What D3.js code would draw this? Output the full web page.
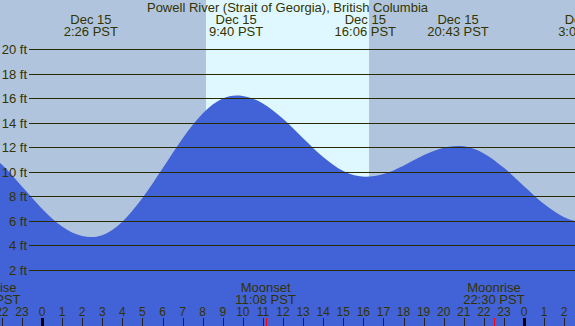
<!DOCTYPE html>
<html><head><meta charset="utf-8">
<script src="https://cdn.jsdelivr.net/npm/d3@7"></script>
<style>html,body{margin:0;padding:0;overflow:hidden;background:#b0c4de}svg{display:block}</style>
</head><body>
<svg id="c" width="575" height="326"></svg>
<script>
// ---- data (hours relative to Dec 15 00:00 PST, heights in ft) ----
const title = "Powell River (Strait of Georgia), British Columbia";
const tideHours   = [-3, -2, -1, 0, 1, 2, 2.43, 3, 4, 5, 6, 7, 8, 9, 9.67, 10, 11, 12, 13, 14, 15, 16.1, 17, 18, 19, 20, 20.72, 21, 22, 23, 24, 25, 26, 27.05, 28];
const tideHeights = [11.7, 10.6, 8.8, 7.0, 5.55, 4.77, 4.68, 4.84, 5.94, 7.87, 10.28, 12.73, 14.76, 15.98, 16.24, 16.2, 15.58, 14.33, 12.75, 11.21, 10.07, 9.6, 9.83, 10.51, 11.35, 11.97, 12.12, 12.09, 11.51, 10.33, 8.83, 7.38, 6.31, 5.9, 6.0];
const extremeDays = ["Dec 15", "Dec 15", "Dec 15", "Dec 15", "Dec 16"];
const extremeTimes = ["2:26", "9:40", "16:06", "20:43", "3:03"];
const extremeDayOffset = [0, 0, 0, 0, 1];
const sunriseTime = "8:10";
const sunsetTime = "16:17";
const moonEvents = ["Moonrise", "Moonset", "Moonrise"];
const moonTimes = ["21:24", "11:08", "22:30"];
const moonDayOffset = [-1, 0, 0];
const yTicks = [2, 4, 6, 8, 10, 12, 14, 16, 18, 20];
const hourTicks = [-2, -1, 0, 1, 2, 3, 4, 5, 6, 7, 8, 9, 10, 11, 12, 13, 14, 15, 16, 17, 18, 19, 20, 21, 22, 23, 24, 25, 26];

// ---- style ----
const W = 575, H = 326;
const nightColor = "#b0c4de", dayColor = "#dff8ff", tideColor = "#4262d7";
const ink = "#333300", gridInk = "#2a2a00";
const font = "'Liberation Sans', Arial, sans-serif";

const toH = (s, off) => { const [h, m] = s.split(":").map(Number); return off * 24 + h + m / 60; };

const x = d3.scaleLinear().domain([0, 24]).range([42, 524]);
const y = d3.scaleLinear().domain([0, 20]).range([294.5, 49.3]);

const svg = d3.select("#c");
svg.append("rect").attr("width", W).attr("height", H).attr("fill", nightColor);
const sr = toH(sunriseTime, 0), ss = toH(sunsetTime, 0);
svg.append("rect").attr("x", x(sr)).attr("y", 0).attr("width", x(ss) - x(sr)).attr("height", H).attr("fill", dayColor);

const pts = tideHours.map((h, i) => [h, tideHeights[i]]);
const area = d3.area().x(d => x(d[0])).y0(H).y1(d => y(d[1])).curve(d3.curveMonotoneX);
svg.append("path").datum(pts).attr("d", area).attr("fill", tideColor);

// grid lines
svg.selectAll("line.grid").data(yTicks).join("line").attr("class", "grid")
  .attr("x1", 29).attr("x2", W)
  .attr("y1", d => Math.round(y(d)) + 0.5).attr("y2", d => Math.round(y(d)) + 0.5)
  .attr("stroke", gridInk).attr("stroke-width", 1);
svg.selectAll("text.yl").data(yTicks).join("text").attr("class", "yl")
  .attr("x", 27).attr("y", d => Math.round(y(d)) + 5)
  .attr("text-anchor", "end").attr("font-family", font).attr("font-size", 13).attr("fill", ink)
  .text(d => d + " ft");

// title
svg.append("text").attr("x", 287.5).attr("y", 11.5).attr("text-anchor", "middle")
  .attr("font-family", font).attr("font-size", 13).attr("fill", ink).text(title);

// extreme labels
extremeTimes.forEach((t, i) => {
  const cx = x(toH(t, extremeDayOffset[i]));
  const g = svg.append("g").attr("font-family", font).attr("font-size", 13).attr("fill", ink).attr("text-anchor", "middle");
  g.append("text").attr("x", cx).attr("y", 24).text(extremeDays[i]);
  g.append("text").attr("x", cx).attr("y", 36).text(t + " PST");
});

// moon labels
moonEvents.forEach((ev, i) => {
  const cx = x(toH(moonTimes[i], moonDayOffset[i]));
  const g = svg.append("g").attr("font-family", font).attr("font-size", 13).attr("fill", ink).attr("text-anchor", "middle");
  g.append("text").attr("x", cx).attr("y", 291.5).text(ev);
  g.append("text").attr("x", cx).attr("y", 304).text(moonTimes[i] + " PST");
});

// hour labels and ticks
svg.selectAll("text.hl").data(hourTicks).join("text").attr("class", "hl")
  .attr("x", d => x(d)).attr("y", 316).attr("text-anchor", "middle")
  .attr("font-family", font).attr("font-size", 12).attr("fill", ink)
  .text(d => ((d % 24) + 24) % 24);
svg.selectAll("line.ht").data(hourTicks).join("line").attr("class", "ht")
  .attr("x1", d => Math.round(x(d)) + 0.5).attr("x2", d => Math.round(x(d)) + 0.5)
  .attr("y1", 318).attr("y2", H)
  .attr("stroke", d => (d % 24 === 0 ? "#000" : "#222"))
  .attr("stroke-width", d => (d % 24 === 0 ? 3 : 1));
moonTimes.forEach((t, i) => {
  const mx = Math.round(x(toH(t, moonDayOffset[i]))) + 0.5;
  svg.append("line").attr("x1", mx).attr("x2", mx).attr("y1", 318).attr("y2", H)
    .attr("stroke", "#ff0000").attr("stroke-width", 1);
});
</script>
</body></html>
